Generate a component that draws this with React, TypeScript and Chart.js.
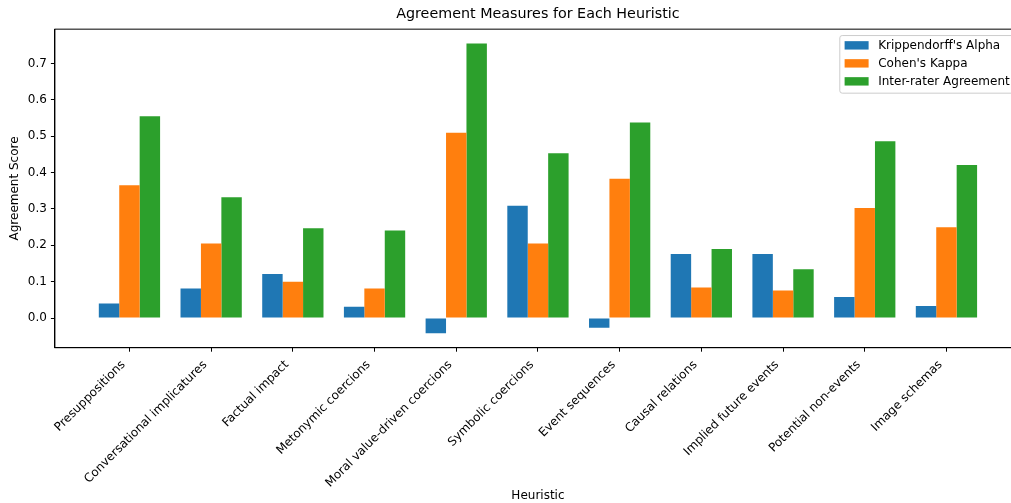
import React, { useEffect, useRef } from "react";
import { Chart, registerables } from "chart.js";

Chart.register(...registerables);

const categories = [
  "Presuppositions",
  "Conversational implicatures",
  "Factual impact",
  "Metonymic coercions",
  "Moral value-driven coercions",
  "Symbolic coercions",
  "Event sequences",
  "Causal relations",
  "Implied future events",
  "Potential non-events",
  "Image schemas",
];
const seriesNames = ["Krippendorff's Alpha", "Cohen's Kappa", "Inter-rater Agreement"];
const krippendorffAlpha = [0.040, 0.081, 0.121, 0.031, -0.042, 0.309, -0.027, 0.176, 0.176, 0.058, 0.033];
const cohensKappa = [0.365, 0.205, 0.100, 0.081, 0.510, 0.205, 0.383, 0.084, 0.076, 0.303, 0.250];
const interRaterAgreement = [0.555, 0.332, 0.247, 0.241, 0.755, 0.453, 0.538, 0.190, 0.134, 0.486, 0.421];
const yTickValues = [0, 0.1, 0.2, 0.3, 0.4, 0.5, 0.6, 0.7];
const seriesColors = ["#1f77b4", "#ff7f0e", "#2ca02c"];

const FONT = "'DejaVu Sans', 'Liberation Sans', sans-serif";

const framePlugin = {
  id: "frame",
  afterDraw(chart: any) {
    const { ctx, chartArea } = chart;
    ctx.save();
    ctx.strokeStyle = "#000";
    ctx.lineWidth = 1;
    ctx.strokeRect(chartArea.left, chartArea.top, chartArea.right - chartArea.left, chartArea.bottom - chartArea.top);

    // legend (upper right)
    ctx.font = `12px ${FONT}`;
    const textW = Math.max(...seriesNames.map((n) => ctx.measureText(n).width));
    const pad = 4.8;
    const handleW = 24;
    const handleH = 8.4;
    const gap = 9.6;
    const rowH = 18;
    const boxW = pad + handleW + gap + textW + pad;
    const boxH = 57.6;
    const right = chartArea.right - 6.5;
    const left = right - boxW;
    const top = chartArea.top + 6.4;
    const r = 2.4;
    ctx.beginPath();
    ctx.moveTo(left + r, top);
    ctx.lineTo(left + boxW - r, top);
    ctx.arcTo(left + boxW, top, left + boxW, top + r, r);
    ctx.lineTo(left + boxW, top + boxH - r);
    ctx.arcTo(left + boxW, top + boxH, left + boxW - r, top + boxH, r);
    ctx.lineTo(left + r, top + boxH);
    ctx.arcTo(left, top + boxH, left, top + boxH - r, r);
    ctx.lineTo(left, top + r);
    ctx.arcTo(left, top, left + r, top, r);
    ctx.closePath();
    ctx.fillStyle = "rgba(255,255,255,0.8)";
    ctx.fill();
    ctx.strokeStyle = "#cccccc";
    ctx.stroke();
    ctx.textBaseline = "middle";
    ctx.textAlign = "left";
    seriesNames.forEach((name, i) => {
      const cy = top + 9.8 + i * rowH;
      ctx.fillStyle = seriesColors[i];
      ctx.fillRect(left + pad, cy - handleH / 2, handleW, handleH);
      ctx.fillStyle = "#000";
      ctx.fillText(name, left + pad + handleW + gap, cy + 0.5);
    });
    ctx.restore();
  },
};

export default function App() {
  const canvasRef = useRef<HTMLCanvasElement | null>(null);

  useEffect(() => {
    const canvas = canvasRef.current;
    if (!canvas) return;
    const seriesData = [krippendorffAlpha, cohensKappa, interRaterAgreement];
    const chart = new Chart(canvas, {
      type: "bar",
      data: {
        datasets: seriesData.map((vals, s) => ({
          label: seriesNames[s],
          data: vals.map((v, i) => ({ x: i, y: v })),
          backgroundColor: seriesColors[s],
          borderWidth: 0,
          categoryPercentage: 0.75,
          barPercentage: 1.0,
        })),
      },
      options: {
        animation: false,
        responsive: false,
        devicePixelRatio: 1,
        layout: { padding: { left: 0, right: 10, top: 0, bottom: 0 } },
        plugins: {
          legend: { display: false },
          tooltip: { enabled: false },
          title: {
            display: true,
            text: "Agreement Measures for Each Heuristic",
            fullSize: false,
            color: "#000",
            font: { family: FONT, size: 14.3, weight: "normal", lineHeight: 1.2 },
            padding: { top: 6, bottom: 6 },
          },
        },
        scales: {
          x: {
            type: "linear",
            min: -0.9125,
            max: 10.9125,
            offset: false,
            afterBuildTicks: (scale: any) => {
              scale.ticks = categories.map((_, i) => ({ value: i }));
            },
            afterFit: (scale: any) => {
              scale.height = 155.3;
            },
            grid: { offset: false, drawOnChartArea: false, drawTicks: true, tickLength: 4, color: "#000", tickWidth: 1 },
            border: { display: true, color: "#000", width: 1 },
            ticks: {
              autoSkip: false,
              maxRotation: 45,
              minRotation: 45,
              padding: 6,
              labelOffset: -6,
              color: "#000",
              font: { family: FONT, size: 12 },
              callback: (v: any) => categories[Math.round(Number(v))] ?? "",
            },
            title: {
              display: true,
              text: "Heuristic",
              color: "#000",
              font: { family: FONT, size: 12, lineHeight: 1.2 },
              padding: { top: 0, bottom: 0 },
            },
          },
          y: {
            type: "linear",
            min: -0.0816,
            max: 0.7946,
            afterBuildTicks: (scale: any) => {
              scale.ticks = yTickValues.map((v) => ({ value: v }));
            },
            afterFit: (scale: any) => {
              scale.width = 54.9;
            },
            grid: { drawOnChartArea: false, drawTicks: true, tickLength: 4, color: "#000", tickWidth: 1 },
            border: { display: true, color: "#000", width: 1 },
            ticks: {
              padding: 4,
              color: "#000",
              font: { family: FONT, size: 12 },
              callback: (v: any) => Number(v).toFixed(1),
            },
            title: {
              display: true,
              text: "Agreement Score",
              color: "#000",
              font: { family: FONT, size: 12, lineHeight: 1.2 },
              padding: { top: 7.8, bottom: 0 },
            },
          },
        },
      },
      plugins: [framePlugin],
    } as any);
    return () => chart.destroy();
  }, []);

  return (
    <div
      style={{
        position: "fixed",
        left: 0,
        top: 0,
        width: 1011,
        height: 503,
        overflow: "hidden",
        background: "#fff",
      }}
    >
      <canvas ref={canvasRef} width={1031} height={503} style={{ display: "block", width: 1031, height: 503 }} />
    </div>
  );
}
